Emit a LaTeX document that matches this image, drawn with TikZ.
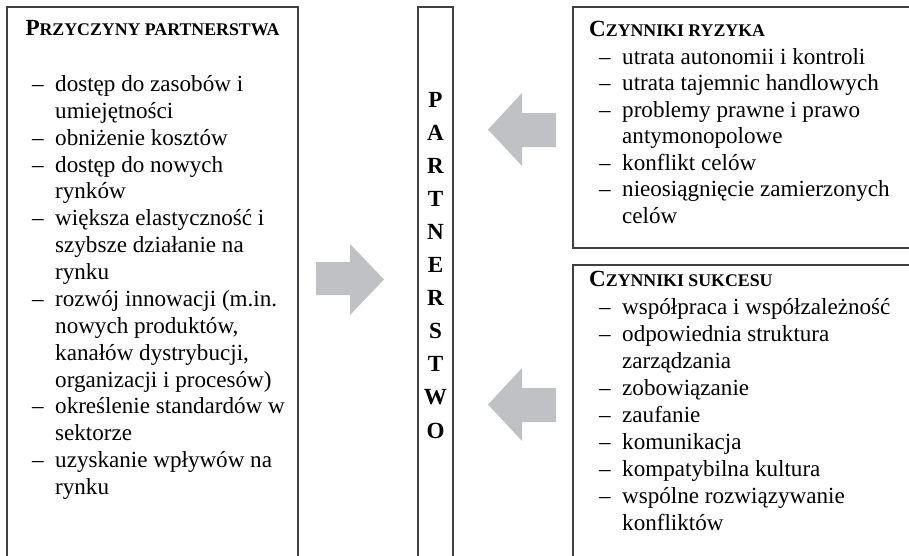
\documentclass[tikz,border=0pt]{standalone}
\usepackage{fontspec}
\setmainfont{Liberation Serif}
\definecolor{rule}{RGB}{64,64,64}
\definecolor{arrowgrey}{RGB}{192,193,196}
\newcommand\scapshead[2]{\textbf{#1{\fontsize{17.8}{20}\selectfont #2}}}
\tikzset{
  frame/.style={draw=rule, line width=1.1pt},
  txt/.style={anchor=base west, inner sep=0pt, font=\fontsize{23.1}{26.8}\selectfont},
  head/.style={inner sep=0pt, font=\fontsize{23.1}{26.8}\selectfont},
  letter/.style={anchor=base, inner sep=0pt, font=\fontsize{23.1}{26.8}\selectfont\bfseries},
  blockarrow/.style={fill=arrowgrey}
}
\begin{document}
\begin{tikzpicture}[x=1pt,y=-1pt]
\useasboundingbox (0,0) rectangle (909,555);
\clip (0,0) rectangle (909,555);

% frames (open where they run off the page)
\draw[frame] (7,570) -- (7,7) -- (298,7) -- (298,570);
\draw[frame] (418,570) -- (418,7) -- (453,7) -- (453,570);
\draw[frame] (920,248) -- (573,248) -- (573,7) -- (920,7);
\draw[frame] (920,265) -- (573,265) -- (573,570);

% headings
\node[head, anchor=base] (hL) at (152.5,35) {\scapshead{P}{RZYCZYNY PARTNERSTWA}};
\node[head, anchor=base west] (hR) at (589,36) {\scapshead{C}{ZYNNIKI RYZYKA}};
\node[head, anchor=base west] (hS) at (589,286) {\scapshead{C}{ZYNNIKI SUKCESU}};

% reasons for partnership
\foreach [count=\i] \d/\t in {
  1/{dostęp do zasobów i}, 0/{umiejętności},
  1/{obniżenie kosztów},
  1/{dostęp do nowych}, 0/{rynków},
  1/{większa elastyczność i}, 0/{szybsze działanie na}, 0/{rynku},
  1/{rozwój innowacji (m.in.}, 0/{nowych produktów,}, 0/{kanałów dystrybucji,}, 0/{organizacji i procesów)},
  1/{określenie standardów w}, 0/{sektorze},
  1/{uzyskanie wpływów na}, 0/{rynku}} {
  \node[txt] (L\i) at (55,{91.5+(\i-1)*26.87}) {\t};
  \ifnum\d=1 \node[txt] (Ld\i) at (32,{91.5+(\i-1)*26.87}) {–}; \fi
}

% risk factors
\foreach [count=\i] \d/\t in {
  1/{utrata autonomii i kontroli},
  1/{utrata tajemnic handlowych},
  1/{problemy prawne i prawo}, 0/{antymonopolowe},
  1/{konflikt celów},
  1/{nieosiągnięcie zamierzonych}, 0/{celów}} {
  \node[txt] (R\i) at (622,{64+(\i-1)*26.5}) {\t};
  \ifnum\d=1 \node[txt] (Rd\i) at (599,{64+(\i-1)*26.5}) {–}; \fi
}

% success factors
\foreach [count=\i] \d/\t in {
  1/{współpraca i współzależność},
  1/{odpowiednia struktura}, 0/{zarządzania},
  1/{zobowiązanie},
  1/{zaufanie},
  1/{komunikacja},
  1/{kompatybilna kultura},
  1/{wspólne rozwiązywanie}, 0/{konfliktów}} {
  \node[txt] (S\i) at (622,{314+(\i-1)*27}) {\t};
  \ifnum\d=1 \node[txt] (Sd\i) at (599,{314+(\i-1)*27}) {–}; \fi
}

% vertical word in the centre column
\foreach [count=\i] \c in {P,A,R,T,N,E,R,S,T,W,O}
  \node[letter] (C\i) at (435.5,{107+(\i-1)*33.1}) {\c};

% block arrows
\fill[blockarrow] (316,262) -- (350,262) -- (350,244) -- (384,279.5) -- (350,315) -- (350,295) -- (316,295) -- cycle;
\fill[blockarrow] (556,113) -- (522,113) -- (522,93) -- (488,129.5) -- (522,166) -- (522,147) -- (556,147) -- cycle;
\fill[blockarrow] (556,388) -- (522,388) -- (522,368) -- (488,404.5) -- (522,441) -- (522,422) -- (556,422) -- cycle;
\end{tikzpicture}
\end{document}
